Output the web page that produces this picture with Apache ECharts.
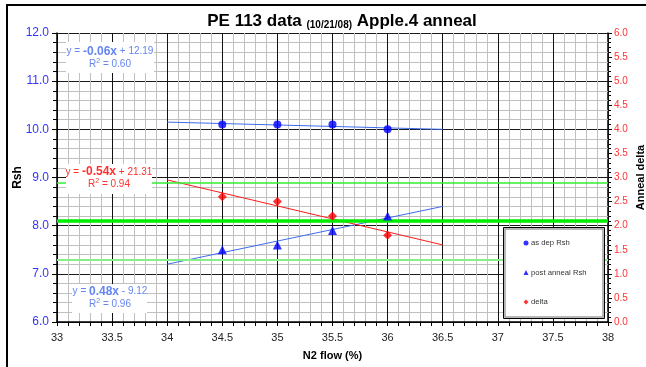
<!DOCTYPE html>
<html><head><meta charset="utf-8">
<script src="https://cdn.jsdelivr.net/npm/echarts@6/dist/echarts.min.js"></script>
<style>html,body{margin:0;padding:0;background:#fff}#c{width:646px;height:367px}</style>
</head><body><div id="c"></div>
<script>
const n2Flow = [34.5, 35, 35.5, 36];
const asDepRsh = [10.1, 10.1, 10.1, 10.0];
const postAnnealRsh = [7.5, 7.6, 7.9, 8.2];
const delta = [2.6, 2.5, 2.2, 1.8];
const trendX = [34, 36.5];
const asDepTrend = [10.15, 10.0];
const postTrend = [7.2, 8.4];
const deltaTrend = [2.95, 1.6];
const greenLevels = [8.9, 8.1, 7.3];
const xTicks = [33, 38, 0.5];
const leftTicks = [6, 12, 1];
const rightTicks = [0, 6, 0.5];

const pair = (xs, ys) => xs.map((x, i) => [x, ys[i]]);
const chart = echarts.init(document.getElementById('c'));
const FONT = 'Liberation Sans, Arial, sans-serif';
const blueTxt = '#6585f0', redTxt = '#ff3030';

function eqLabel(x, y, eq, r2, color, lh) {
  const st = { fontSize: 10, fill: color, lineHeight: lh, fontFamily: FONT };
  return { type: 'text', x: x, y: y, z: 11, style: {
    text: '{r|y = }{b|' + eq[0] + '}{r| ' + eq[1] + '}\n{r|R}{s|2}{r| = ' + r2 + '}', align: 'center',
    rich: { r: st, b: Object.assign({}, st, { fontSize: 12, fontWeight: 'bold' }),
            s: Object.assign({}, st, { fontSize: 7, verticalAlign: 'top' }) } } };
}

chart.setOption({
  animation: false,
  textStyle: { fontFamily: FONT },
  title: {
    left: 337, top: 8, textAlign: 'center',
    text: '{a|PE 113 data }{b|(10/21/08)}{a| Apple.4 anneal}',
    textStyle: { rich: {
      a: { fontSize: 17, fontWeight: 'bold', color: '#000', fontFamily: FONT },
      b: { fontSize: 10, fontWeight: 'bold', color: '#000', fontFamily: FONT, verticalAlign: 'bottom' }
    } }
  },
  grid: { left: 57, right: 38, top: 33, bottom: 45, containLabel: false, outerBoundsMode: 'none' },
  xAxis: {
    type: 'value', min: xTicks[0], max: xTicks[1], interval: xTicks[2], z: 2,
    name: 'N2 flow (%)', nameLocation: 'middle', nameGap: 28,
    nameTextStyle: { fontWeight: 'bold', fontSize: 11, color: '#000', fontFamily: FONT },
    axisLine: { onZero: false, lineStyle: { color: '#000', width: 1.5 } },
    axisTick: { length: 4, lineStyle: { color: '#000' } },
    minorTick: { show: true, splitNumber: 5, length: 4, lineStyle: { color: '#000' } },
    axisLabel: { fontSize: 11, color: '#222', margin: 10, fontFamily: FONT },
    splitLine: { show: true, lineStyle: { color: '#111', width: 1 } },
    minorSplitLine: { show: true, lineStyle: { color: '#c0c0c0', width: 1 } }
  },
  yAxis: [
    {
      type: 'value', min: leftTicks[0], max: leftTicks[1], interval: leftTicks[2], z: 2,
      name: 'Rsh', nameLocation: 'middle', nameGap: 39, nameRotate: 90, nameMoveOverlap: false,
      nameTextStyle: { fontWeight: 'bold', fontSize: 12, color: '#000', fontFamily: FONT, verticalAlign: 'middle' },
      axisLine: { show: true, lineStyle: { color: '#000', width: 1.5 } },
      axisTick: { show: true, length: 5, lineStyle: { color: '#000' } },
      minorTick: { show: true, splitNumber: 5, length: 4, lineStyle: { color: '#000' } },
      axisLabel: { fontSize: 12, color: '#3333ff', margin: 8, formatter: v => v.toFixed(1), fontFamily: FONT },
      splitLine: { show: true, lineStyle: { color: '#1a1a1a', width: 1 } },
      minorSplitLine: { show: true, lineStyle: { color: '#c0c0c0', width: 1 } }
    },
    {
      type: 'value', min: rightTicks[0], max: rightTicks[1], interval: rightTicks[2], z: 1,
      position: 'right',
      name: 'Anneal delta', nameLocation: 'middle', nameGap: 33, nameRotate: 90, nameMoveOverlap: false,
      nameTextStyle: { fontWeight: 'bold', fontSize: 11, color: '#000', fontFamily: FONT, verticalAlign: 'middle' },
      axisLine: { show: true, lineStyle: { color: '#000', width: 1.5 } },
      axisTick: { show: true, length: 4, lineStyle: { color: '#000' } },
      minorTick: { show: true, splitNumber: 5, length: 3, lineStyle: { color: '#000' } },
      axisLabel: { fontSize: 10, color: '#ff3333', margin: 6, formatter: v => v.toFixed(1), fontFamily: FONT },
      splitLine: { show: false },
      minorSplitLine: { show: false }
    }
  ],
  legend: {
    orient: 'vertical', left: 518.5, top: 234, itemGap: 21.5, itemWidth: 5, itemHeight: 5, z: 30,
    textStyle: { fontSize: 7.7, color: '#333', fontFamily: FONT, padding: [0,0,0,-2.5] },
    data: [
      { name: 'as dep Rsh', icon: 'circle' },
      { name: 'post anneal Rsh', icon: 'triangle' },
      { name: 'delta', icon: 'diamond' }
    ]
  },
  series: [
    {
      name: 'green levels', type: 'line', yAxisIndex: 0, data: [], silent: true,
      markLine: {
        silent: true, symbol: 'none', label: { show: false },
        data: [
          { yAxis: greenLevels[0], lineStyle: { color: '#33ee33', width: 1.5, type: 'solid' } },
          { yAxis: greenLevels[1], lineStyle: { color: '#00ee00', width: 3.5, type: 'solid' } },
          { yAxis: greenLevels[2], lineStyle: { color: '#88ee88', width: 2, type: 'solid' } }
        ]
      }
    },
    { name: 'asDepTrend', type: 'line', yAxisIndex: 0, data: pair(trendX, asDepTrend), symbol: 'none',
      lineStyle: { color: '#3d6cf0', width: 1 }, z: 3 },
    { name: 'postTrend', type: 'line', yAxisIndex: 0, data: pair(trendX, postTrend), symbol: 'none',
      lineStyle: { color: '#3d6cf0', width: 1 }, z: 3 },
    { name: 'deltaTrend', type: 'line', yAxisIndex: 1, data: pair(trendX, deltaTrend), symbol: 'none',
      lineStyle: { color: '#ff1a1a', width: 1 }, z: 3 },
    { name: 'as dep Rsh', type: 'scatter', yAxisIndex: 0, data: pair(n2Flow, asDepRsh),
      symbol: 'circle', symbolSize: 8, itemStyle: { color: '#0000ff' }, z: 5 },
    { name: 'post anneal Rsh', type: 'scatter', yAxisIndex: 0, data: pair(n2Flow, postAnnealRsh),
      symbol: 'triangle', symbolSize: 9, itemStyle: { color: '#0000ff' }, z: 5 },
    { name: 'delta', type: 'scatter', yAxisIndex: 1, data: pair(n2Flow, delta),
      symbol: 'diamond', symbolSize: 9, itemStyle: { color: '#ff0000' }, z: 5 }
  ],
  graphic: [
    { type: 'rect', shape: { x: 7, y: 5, width: 660, height: 380 }, style: { fill: 'none', stroke: '#000', lineWidth: 2 }, z: 100, silent: true },
    { type: 'rect', shape: { x: 503.5, y: 227.5, width: 101, height: 91 },
      style: { fill: '#fff', stroke: '#000', lineWidth: 1 }, z: 10 },
    { type: 'rect', shape: { x: 505, y: 229, width: 98, height: 88 },
      style: { fill: 'none', stroke: '#a0a0a0', lineWidth: 1.5 }, z: 10 },
    { type: 'rect', shape: { x: 66, y: 42, width: 88, height: 31 }, style: { fill: '#fff' }, z: 10 },
    eqLabel(110, 45, ['-0.06x', '+ 12.19'], '0.60', blueTxt, 13),
    { type: 'rect', shape: { x: 66, y: 164, width: 86, height: 30 }, style: { fill: '#fff' }, z: 10 },
    eqLabel(109, 166, ['-0.54x', '+ 21.31'], '0.94', redTxt, 12),
    { type: 'rect', shape: { x: 72, y: 284, width: 75, height: 29 }, style: { fill: '#fff' }, z: 10 },
    eqLabel(110, 285, ['0.48x', '- 9.12'], '0.96', blueTxt, 13)
  ]
});
</script>
</body></html>
